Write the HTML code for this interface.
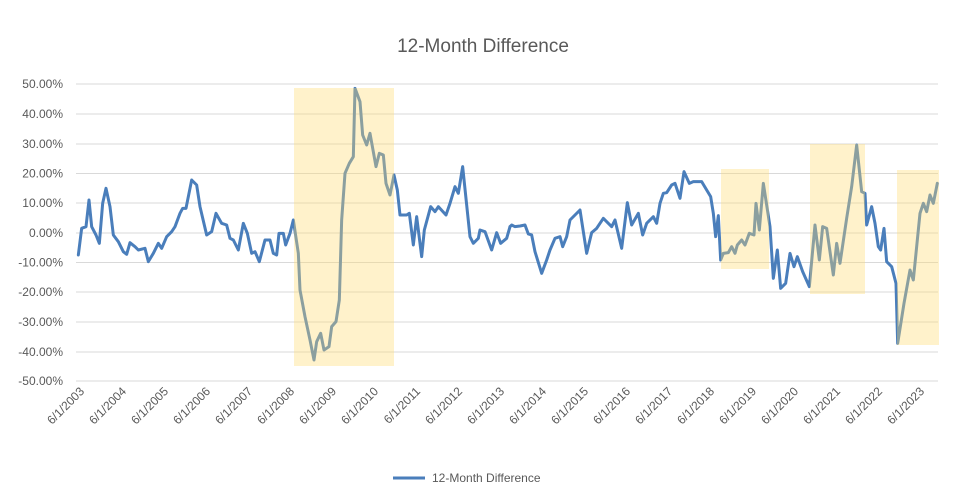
<!DOCTYPE html>
<html><head><meta charset="utf-8"><style>
html,body{margin:0;padding:0;background:#fff;}
svg{display:block;font-family:"Liberation Sans",sans-serif;}
</style></head><body>
<svg width="958" height="502" viewBox="0 0 958 502" xmlns="http://www.w3.org/2000/svg">
<rect width="958" height="502" fill="#fff"/>
<text x="483" y="52" text-anchor="middle" font-size="19" fill="#595959">12-Month Difference</text>
<g stroke="#d9d9d9" stroke-width="1">
<line x1="76" x2="938" y1="84" y2="84"/><line x1="76" x2="938" y1="114" y2="114"/>
<line x1="76" x2="938" y1="144" y2="144"/><line x1="76" x2="938" y1="173.5" y2="173.5"/>
<line x1="76" x2="938" y1="203" y2="203"/><line x1="76" x2="938" y1="233" y2="233"/>
<line x1="76" x2="938" y1="262.5" y2="262.5"/><line x1="76" x2="938" y1="292" y2="292"/>
<line x1="76" x2="938" y1="322" y2="322"/><line x1="76" x2="938" y1="352" y2="352"/>
<line x1="76" x2="938" y1="381" y2="381"/>
</g>
<g font-size="12" fill="#595959" text-anchor="end">
<text x="63" y="88">50.00%</text><text x="63" y="118">40.00%</text><text x="63" y="148">30.00%</text>
<text x="63" y="177.5">20.00%</text><text x="63" y="207">10.00%</text><text x="63" y="237">0.00%</text>
<text x="63" y="266.5">-10.00%</text><text x="63" y="296">-20.00%</text><text x="63" y="326">-30.00%</text>
<text x="63" y="356">-40.00%</text><text x="63" y="385">-50.00%</text>
</g>
<g fill="none" stroke="#4a7ebb" stroke-width="9" stroke-linejoin="round" stroke-linecap="round">
<polyline transform="translate(60,70) scale(0.33333)" points="55,555 65,475 78,470 87,390 95,470 108,495 118,520 128,400 138,355 150,410 160,495 175,515 190,545 200,553 210,518 225,530 235,540 255,535 265,575 280,550 295,520 305,535 320,500 335,485 345,470 360,430 368,415 378,415 395,330 410,345 420,410 440,495 455,485 468,430 485,460 500,465 510,505 520,510 535,540 550,460 562,490 575,550 585,545 598,575 615,510 630,510 640,550 650,555 657,490 670,490 677,525 690,490 700,450 715,550 720,660 735,740 750,810 762,870 770,815 782,790 792,840 807,830 815,770 828,755 838,690 845,450 855,310 868,280 880,260 885,55 900,95 908,195 920,225 930,190 948,290 958,250 970,255 978,340 990,375 1002,315 1012,360 1020,435 1040,435 1048,430 1060,525 1070,440 1085,560 1093,480 1112,410 1125,425 1135,410 1158,435 1170,400 1185,350 1195,370 1208,290 1230,500 1240,520 1255,505 1260,480 1275,485 1295,540 1310,488 1322,520 1340,505 1350,470"/>
<polyline transform="translate(500,70) scale(0.33333)" points="30,470 35,465 45,470 60,468 75,465 85,492 95,495 105,545 125,610 140,570 150,540 165,505 180,500 188,530 200,500 210,450 225,435 240,420 260,550 275,488 290,475 310,445 320,455 335,470 345,450 365,535 382,398 395,465 415,430 428,495 440,460 460,440 470,460 480,400 490,370 500,368 515,345 525,340 540,385 552,305 568,340 580,335 605,335 620,360 632,380 640,430 647,500 655,437 662,570 670,550 685,548 695,530 705,550 712,525 725,510 735,525 748,490 762,495 768,400 778,480 790,340 810,470 820,625 832,540 842,655 857,640 870,550 882,590 892,560 908,605 928,650 945,465 958,570 968,470 980,475 1000,615 1010,520 1020,580 1040,445 1055,350 1070,225 1085,365 1095,370 1100,465 1115,410 1125,460 1135,530 1142,540 1152,475 1160,575 1175,590 1188,640 1193,820 1212,700 1230,600 1240,630 1260,430 1270,400 1280,425 1290,375 1300,400 1312,340"/>
</g>
<g fill="rgba(255,218,111,0.36)">
<rect x="294" y="88" width="100" height="278"/>
<rect x="721" y="169" width="48" height="100"/>
<rect x="810" y="144" width="55" height="150"/>
<rect x="897" y="170" width="42" height="175"/>
</g>
<g font-size="12" fill="#595959" text-anchor="end">
<text transform="translate(85,392) rotate(-45)">6/1/2003</text>
<text transform="translate(127,392) rotate(-45)">6/1/2004</text>
<text transform="translate(169,392) rotate(-45)">6/1/2005</text>
<text transform="translate(211,392) rotate(-45)">6/1/2006</text>
<text transform="translate(253,392) rotate(-45)">6/1/2007</text>
<text transform="translate(295,392) rotate(-45)">6/1/2008</text>
<text transform="translate(337,392) rotate(-45)">6/1/2009</text>
<text transform="translate(379,392) rotate(-45)">6/1/2010</text>
<text transform="translate(421,392) rotate(-45)">6/1/2011</text>
<text transform="translate(463,392) rotate(-45)">6/1/2012</text>
<text transform="translate(505,392) rotate(-45)">6/1/2013</text>
<text transform="translate(547,392) rotate(-45)">6/1/2014</text>
<text transform="translate(589,392) rotate(-45)">6/1/2015</text>
<text transform="translate(631,392) rotate(-45)">6/1/2016</text>
<text transform="translate(673,392) rotate(-45)">6/1/2017</text>
<text transform="translate(715,392) rotate(-45)">6/1/2018</text>
<text transform="translate(757,392) rotate(-45)">6/1/2019</text>
<text transform="translate(799,392) rotate(-45)">6/1/2020</text>
<text transform="translate(841,392) rotate(-45)">6/1/2021</text>
<text transform="translate(883,392) rotate(-45)">6/1/2022</text>
<text transform="translate(925,392) rotate(-45)">6/1/2023</text>
</g>
<line x1="393" y1="478" x2="425" y2="478" stroke="#4a7ebb" stroke-width="3"/>
<text x="432" y="482" font-size="12" fill="#595959">12-Month Difference</text>
</svg>
</body></html>
